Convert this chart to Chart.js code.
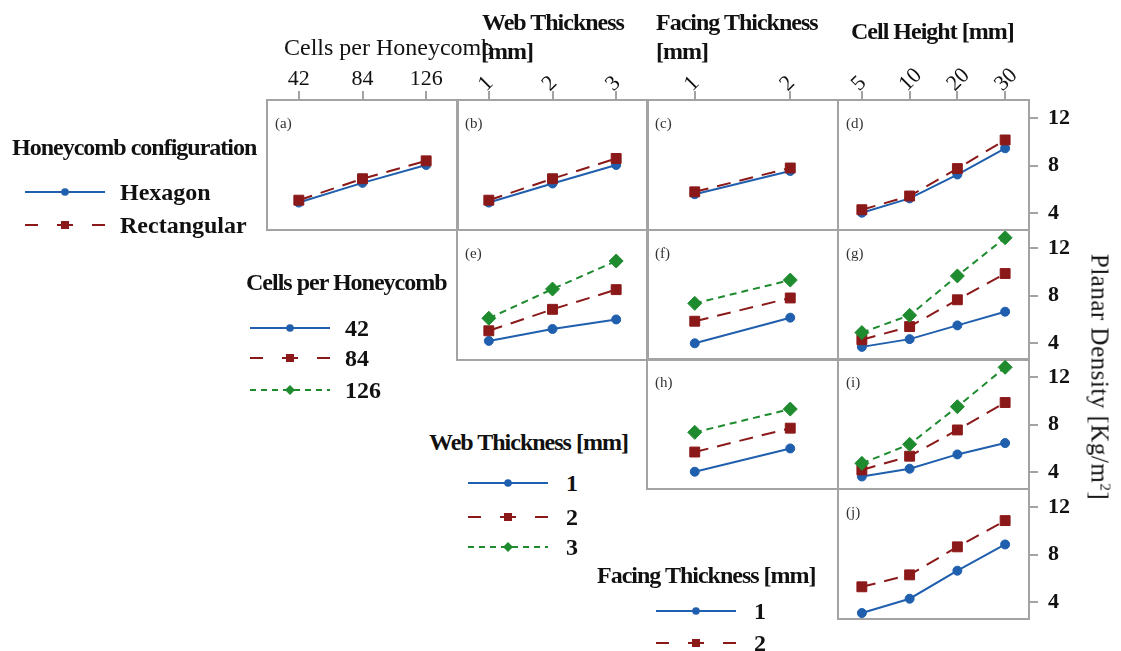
<!DOCTYPE html>
<html>
<head>
<meta charset="utf-8">
<script src="https://cdn.jsdelivr.net/npm/chart.js@4/dist/chart.umd.min.js"></script>
<style>
body { margin: 0; background: #fff; }
#wrap { position: relative; width: 1121px; height: 651px; overflow: hidden;
        font-family: "Liberation Serif", "Times New Roman", serif; color: #111; }
.t { position: absolute; white-space: nowrap; }
.b { font-weight: bold; }
.tight { letter-spacing: -1px; }
canvas, svg { position: absolute; }
</style>
</head>
<body>
<div id="wrap"></div>
<script>
// x categories of the four columns
var cellsLabels = ['42', '84', '126'];
var webLabels = ['1', '2', '3'];
var facingLabels = ['1', '2'];
var heightLabels = ['5', '10', '20', '30'];
var yTicks = [4, 8, 12];

// series names (legends)
var configNames = ['Hexagon', 'Rectangular'];
var cellsNames = ['42', '84', '126'];
var webNames = ['1', '2', '3'];
var facingNames = ['1', '2'];

// planar density [Kg/m2]
// (a) cells per honeycomb, by configuration
var aHexagon = [4.9, 6.55, 8.05];
var aRectangular = [5.1, 6.9, 8.4];
// (b) web thickness, by configuration
var bHexagon = [4.9, 6.5, 8.05];
var bRectangular = [5.1, 6.9, 8.6];
// (c) facing thickness, by configuration
var cHexagon = [5.6, 7.55];
var cRectangular = [5.8, 7.8];
// (d) cell height, by configuration
var dHexagon = [4.05, 5.25, 7.25, 9.45];
var dRectangular = [4.3, 5.45, 7.75, 10.15];
// (e) web thickness, by cells
var e42 = [4.2, 5.2, 6.0];
var e84 = [5.05, 6.85, 8.5];
var e126 = [6.1, 8.55, 10.9];
// (f) facing thickness, by cells
var f42 = [4.0, 6.15];
var f84 = [5.85, 7.8];
var f126 = [7.35, 9.3];
// (g) cell height, by cells
var g42 = [3.7, 4.35, 5.5, 6.65];
var g84 = [4.3, 5.4, 7.65, 9.85];
var g126 = [4.9, 6.35, 9.65, 12.85];
// (h) facing thickness, by web thickness
var h1 = [4.05, 6.0];
var h2 = [5.7, 7.7];
var h3 = [7.35, 9.3];
// (i) cell height, by web thickness
var i1 = [3.65, 4.3, 5.5, 6.45];
var i2 = [4.2, 5.35, 7.55, 9.85];
var i3 = [4.75, 6.35, 9.5, 12.8];
// (j) cell height, by facing thickness
var j1 = [3.1, 4.3, 6.65, 8.85];
var j2 = [5.3, 6.3, 8.65, 10.85];

var BLUE = '#1f5fad', RED = '#8b1919', GREEN = '#1f8b2f', FRAME = '#a3a3a3';
var FONT = 'Liberation Serif';
var lineStyles = [
  { color: BLUE, dash: [], point: 'circle', r: 4.5 },
  { color: RED, dash: [14, 9], point: 'rect', r: 7 },
  { color: GREEN, dash: [7, 5], point: 'rectRot', r: 7 }
];

var colX = [267, 457, 647, 838];
var rowY = [100, 230, 359, 489];
var PW = 191, PH = 130;
var TOP = 50, RIGHT = 60, PAD = 2;

var panels = [
  { id: 'a', row: 0, col: 0, labels: cellsLabels, series: [aHexagon, aRectangular] },
  { id: 'b', row: 0, col: 1, labels: webLabels, series: [bHexagon, bRectangular] },
  { id: 'c', row: 0, col: 2, labels: facingLabels, series: [cHexagon, cRectangular] },
  { id: 'd', row: 0, col: 3, labels: heightLabels, series: [dHexagon, dRectangular] },
  { id: 'e', row: 1, col: 1, labels: webLabels, series: [e42, e84, e126] },
  { id: 'f', row: 1, col: 2, labels: facingLabels, series: [f42, f84, f126] },
  { id: 'g', row: 1, col: 3, labels: heightLabels, series: [g42, g84, g126] },
  { id: 'h', row: 2, col: 2, labels: facingLabels, series: [h1, h2, h3] },
  { id: 'i', row: 2, col: 3, labels: heightLabels, series: [i1, i2, i3] },
  { id: 'j', row: 3, col: 3, labels: heightLabels, series: [j1, j2] }
];

var wrap = document.getElementById('wrap');

var boxPlugin = {
  id: 'box',
  afterDraw: function(chart) {
    var a = chart.chartArea, ctx = chart.ctx;
    ctx.save();
    ctx.strokeStyle = FRAME;
    ctx.lineWidth = 2;
    ctx.strokeRect(a.left, a.top, a.right - a.left, a.bottom - a.top);
    ctx.restore();
  }
};

function noPad(s) {
  s.paddingTop = 0; s.paddingBottom = 0; s.paddingLeft = 0; s.paddingRight = 0;
}

function makeChart(p) {
  var top = p.row == 0, right = p.col == 3;
  var w = PW + 2 * PAD + (right ? RIGHT : 0);
  var h = PH + 2 * PAD + (top ? TOP : 0);
  var cv = document.createElement('canvas');
  cv.width = w;
  cv.height = h;
  cv.style.left = (colX[p.col] - PAD) + 'px';
  cv.style.top = (rowY[p.row] - PAD - (top ? TOP : 0)) + 'px';
  cv.style.width = w + 'px';
  cv.style.height = h + 'px';
  wrap.appendChild(cv);

  var rot = p.col == 0 ? 0 : 45;
  var xScale = {
    type: 'category', offset: true, position: 'top', display: top,
    grid: { offset: false, drawOnChartArea: false, drawTicks: true, tickLength: 9, color: FRAME, lineWidth: 2 },
    border: { display: true, color: FRAME, width: 2 },
    ticks: { padding: rot ? -6 : -1, labelOffset: rot ? 12 : 0, minRotation: rot, maxRotation: rot,
             autoSkip: false, color: '#111', font: { family: FONT, size: 22 } }
  };
  if (top) xScale.afterFit = function(s) { s.height = TOP; noPad(s); };

  var yScale = {
    type: 'linear', min: 2.6, max: 13.5, position: 'right', display: right,
    afterBuildTicks: function(s) { s.ticks = yTicks.map(function(v) { return { value: v }; }); },
    grid: { drawOnChartArea: false, drawTicks: true, tickLength: 9, color: FRAME, lineWidth: 2 },
    border: { display: true, color: FRAME, width: 2 },
    ticks: { padding: 10, color: '#111', font: { family: FONT, size: 22, weight: 'bold' } }
  };
  if (right) yScale.afterFit = function(s) { s.width = RIGHT; noPad(s); };

  new Chart(cv, {
    type: 'line',
    data: {
      labels: p.labels,
      datasets: p.series.map(function(d, k) {
        var s = lineStyles[k];
        return {
          data: d, order: -k,
          borderColor: s.color, borderWidth: 2, borderDash: s.dash,
          pointStyle: s.point, pointRadius: s.r,
          pointBackgroundColor: s.color, pointBorderColor: s.color, pointBorderWidth: 1,
          fill: false, tension: 0
        };
      })
    },
    options: {
      responsive: false, animation: false, devicePixelRatio: 1, events: [],
      layout: { padding: PAD, autoPadding: false },
      plugins: { legend: { display: false }, tooltip: { enabled: false } },
      scales: { x: xScale, y: yScale }
    },
    plugins: [boxPlugin]
  });

  text('(' + p.id + ')', colX[p.col] + 8, rowY[p.row] + 23, 15, '', '#333');
}

function text(str, x, cy, size, cls, color) {
  var d = document.createElement('div');
  d.className = 't ' + (cls || '');
  d.style.left = x + 'px';
  d.style.top = (cy - size / 2) + 'px';
  d.style.fontSize = size + 'px';
  d.style.lineHeight = size + 'px';
  if (color) d.style.color = color;
  d.innerHTML = str;
  wrap.appendChild(d);
  return d;
}

var SVGNS = 'http://www.w3.org/2000/svg';
function el(name, attrs) {
  var e = document.createElementNS(SVGNS, name);
  for (var k in attrs) e.setAttribute(k, attrs[k]);
  return e;
}
var legendDash = ['', '13 19 16 19 13', '6 5'];
function sample(x, cy, k) {
  var s = lineStyles[k];
  var svg = el('svg', { width: 82, height: 16 });
  svg.style.left = x + 'px';
  svg.style.top = (cy - 8) + 'px';
  var ln = el('line', { x1: 0, y1: 8, x2: 80, y2: 8, stroke: s.color, 'stroke-width': 2 });
  if (legendDash[k]) ln.setAttribute('stroke-dasharray', legendDash[k]);
  svg.appendChild(ln);
  if (k == 0) svg.appendChild(el('circle', { cx: 40, cy: 8, r: 3.8, fill: s.color }));
  if (k == 1) svg.appendChild(el('rect', { x: 36, y: 4, width: 8, height: 8, fill: s.color }));
  if (k == 2) svg.appendChild(el('polygon', { points: '40,3 45,8 40,13 35,8', fill: s.color }));
  wrap.appendChild(svg);
}

function legend(title, tx, ty, names, sx, ys, lx) {
  text(title, tx, ty, 24, 'b tight');
  names.forEach(function(n, k) {
    sample(sx, ys[k], k);
    text(n, lx, ys[k], 24, 'b');
  });
}

panels.forEach(makeChart);

// column headers
text('Cells per Honeycomb', 284, 47, 24);
text('Web Thickness', 482, 22, 24, 'b tight');
text('[mm]', 481, 51, 24, 'b tight');
text('Facing Thickness', 656, 22, 24, 'b tight');
text('[mm]', 656, 51, 24, 'b tight');
text('Cell Height [mm]', 851, 31, 24, 'b tight');

// y axis title
var yt = text('Planar Density [Kg/m<sup style="font-size:15px;line-height:0">2</sup>]', 1100, 377, 25);
yt.style.top = '377px';
yt.style.letterSpacing = '0.5px';
yt.style.transform = 'translate(-50%, -50%) rotate(90deg)';

// legends
legend('Honeycomb configuration', 12, 147, configNames, 25, [192, 225], 120);
legend('Cells per Honeycomb', 246, 282, cellsNames, 250, [328, 358, 390], 345);
legend('Web Thickness [mm]', 429, 442, webNames, 468, [483, 517, 547], 566);
legend('Facing Thickness [mm]', 597, 575, facingNames, 656, [611, 643], 754);
</script>
</body>
</html>
